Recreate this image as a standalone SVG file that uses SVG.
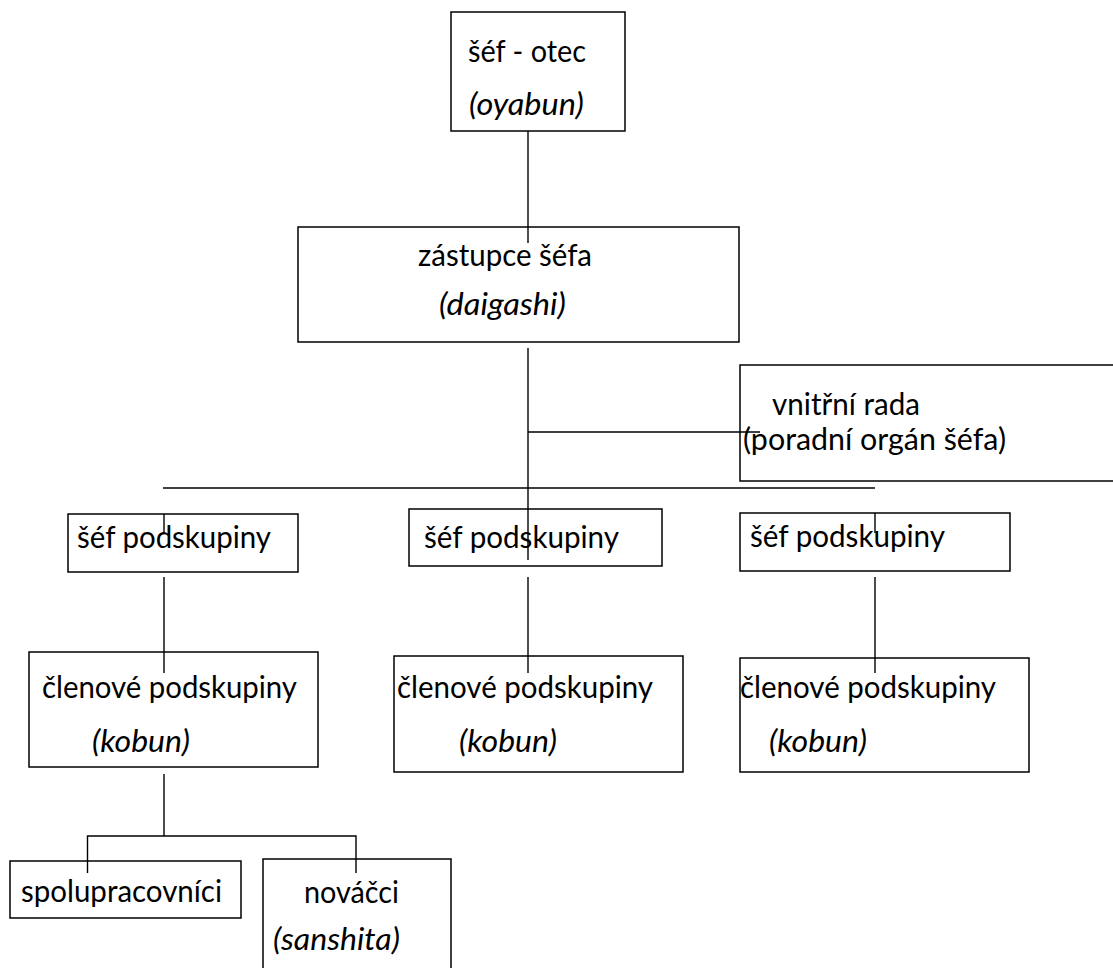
<svg xmlns="http://www.w3.org/2000/svg" width="1113" height="968" viewBox="0 0 1113 968">
<style>
.box{fill:#fff;stroke:#000;stroke-width:1.5}
.ln{stroke:#000;stroke-width:1.4;fill:none}
text{font-family:Lato,"Open Sans","Liberation Sans",sans-serif;font-size:30px;fill:#000}
.i{font-style:italic}
</style>
<rect width="1113" height="968" fill="#fff"/>
<g id="n-oyabun"><rect class="box" x="451" y="12" width="174" height="119"/>
<text x="468" y="62" textLength="118" lengthAdjust="spacingAndGlyphs">šéf - otec</text>
<text class="i" x="469" y="115" textLength="115" lengthAdjust="spacingAndGlyphs">(oyabun)</text></g>
<g id="n-daigashi"><rect class="box" x="298" y="227" width="441" height="115"/>
<text x="418" y="266" textLength="174" lengthAdjust="spacingAndGlyphs">zástupce šéfa</text>
<text class="i" x="439" y="315" textLength="127" lengthAdjust="spacingAndGlyphs">(daigashi)</text></g>
<g id="n-rada"><rect class="box" x="740" y="365" width="400" height="116"/>
<text x="772" y="415" textLength="148" lengthAdjust="spacingAndGlyphs">vnitřní rada</text>
<text x="743" y="450" textLength="263" lengthAdjust="spacingAndGlyphs">(poradní orgán šéfa)</text></g>
<g id="n-sef1"><rect class="box" x="68" y="514" width="230" height="58"/>
<text x="77" y="548" textLength="194" lengthAdjust="spacingAndGlyphs">šéf podskupiny</text></g>
<g id="n-sef2"><rect class="box" x="409" y="509" width="253" height="57"/>
<text x="424" y="548" textLength="195" lengthAdjust="spacingAndGlyphs">šéf podskupiny</text></g>
<g id="n-sef3"><rect class="box" x="740" y="513" width="270" height="58"/>
<text x="750" y="547" textLength="195" lengthAdjust="spacingAndGlyphs">šéf podskupiny</text></g>
<g id="n-kobun1"><rect class="box" x="29" y="652" width="289" height="115"/>
<text x="42" y="698" textLength="255" lengthAdjust="spacingAndGlyphs">členové podskupiny</text>
<text class="i" x="92" y="752" textLength="98" lengthAdjust="spacingAndGlyphs">(kobun)</text></g>
<g id="n-kobun2"><rect class="box" x="394" y="656" width="289" height="116"/>
<text x="397" y="698" textLength="256" lengthAdjust="spacingAndGlyphs">členové podskupiny</text>
<text class="i" x="459" y="752" textLength="98" lengthAdjust="spacingAndGlyphs">(kobun)</text></g>
<g id="n-kobun3"><rect class="box" x="740" y="658" width="289" height="114"/>
<text x="740" y="698" textLength="256" lengthAdjust="spacingAndGlyphs">členové podskupiny</text>
<text class="i" x="769" y="752" textLength="98" lengthAdjust="spacingAndGlyphs">(kobun)</text></g>
<g id="n-spolu"><rect class="box" x="10" y="861" width="231" height="57"/>
<text x="21" y="902" textLength="201" lengthAdjust="spacingAndGlyphs">spolupracovníci</text></g>
<g id="n-novacci"><rect class="box" x="263" y="859" width="188" height="130"/>
<text x="304" y="903" textLength="95" lengthAdjust="spacingAndGlyphs">nováčci</text>
<text class="i" x="273" y="950" textLength="127" lengthAdjust="spacingAndGlyphs">(sanshita)</text></g>
<g id="connectors">
<line class="ln" x1="528" y1="131" x2="528" y2="243"/>
<line class="ln" x1="528" y1="348" x2="528" y2="560"/>
<line class="ln" x1="528" y1="432" x2="760" y2="432"/>
<line class="ln" x1="163" y1="488" x2="875" y2="488"/>
<line class="ln" x1="164" y1="514" x2="164" y2="533"/>
<line class="ln" x1="875" y1="513" x2="875" y2="533"/>
<line class="ln" x1="164" y1="577" x2="164" y2="673"/>
<line class="ln" x1="528" y1="577" x2="528" y2="673"/>
<line class="ln" x1="875" y1="577" x2="875" y2="673"/>
<line class="ln" x1="164" y1="774" x2="164" y2="836"/>
<polyline class="ln" points="87.5,873 87.5,836 356,836 356,873"/>
</g>
</svg>
